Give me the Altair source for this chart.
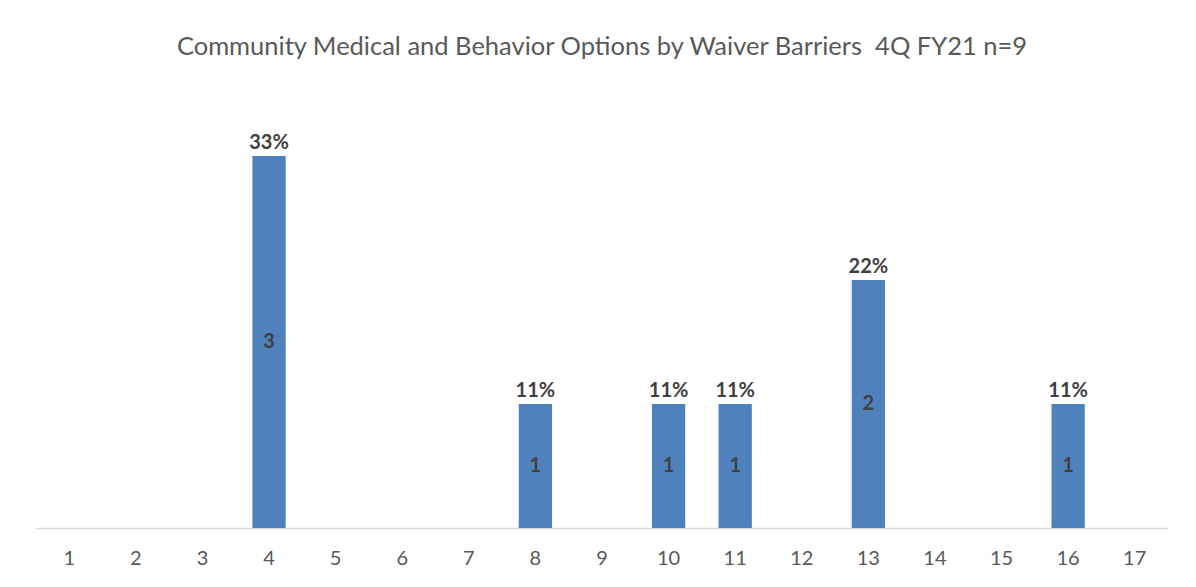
import altair as alt
import pandas as pd

categories = list(range(1, 18))
counts = [0, 0, 0, 3, 0, 0, 0, 1, 0, 1, 1, 0, 2, 0, 0, 1, 0]
pct_labels = ["", "", "", "33%", "", "", "", "11%", "", "11%", "11%", "", "22%", "", "", "11%", ""]

df = pd.DataFrame({"cat": categories, "count": counts, "pct": pct_labels})
df["half"] = df["count"] / 2
df["cnt_label"] = df["count"].astype(str)

x = alt.X("cat:O", title=None, sort=categories,
          scale=alt.Scale(paddingInner=0.5, paddingOuter=0.25),
          axis=alt.Axis(labelAngle=0, ticks=False, domainColor="#d9d9d9", domainWidth=1.5,
                        labelFont="Lato", labelFontSize=20, labelColor="#595959",
                        labelPadding=20, labelBaseline="top"))
yscale = alt.Scale(domain=[0, 3.5], nice=False)

base = alt.Chart(df)
bars = base.mark_bar(color="#4f81bd").encode(
    x=x, y=alt.Y("count:Q", scale=yscale, axis=None))
top = base.transform_filter("datum.count > 0").mark_text(
    font="Lato", fontSize=20, fontWeight="bold", color="#404040", baseline="bottom", dy=-3
).encode(x=x, y=alt.Y("count:Q", scale=yscale), text="pct:N")
mid = base.transform_filter("datum.count > 0").mark_text(
    font="Lato", fontSize=20, fontWeight="bold", color="#404040", baseline="middle"
).encode(x=x, y=alt.Y("half:Q", scale=yscale), text="cnt_label:N")

chart = alt.layer(bars, top, mid).properties(
    width=1132, height=434,
    title=alt.TitleParams("Community Medical and Behavior Options by Waiver Barriers\u00a0 4Q FY21 n=9",
                          font="Lato", fontSize=25.5, fontWeight="normal", color="#595959",
                          anchor="middle", offset=34),
    autosize=alt.AutoSizeParams(type="none"),
    padding={"left": 28, "top": 86, "right": 20, "bottom": 51},
).configure_view(stroke=None)

chart.save("out.html", embed_options={"renderer": "svg", "actions": False})
